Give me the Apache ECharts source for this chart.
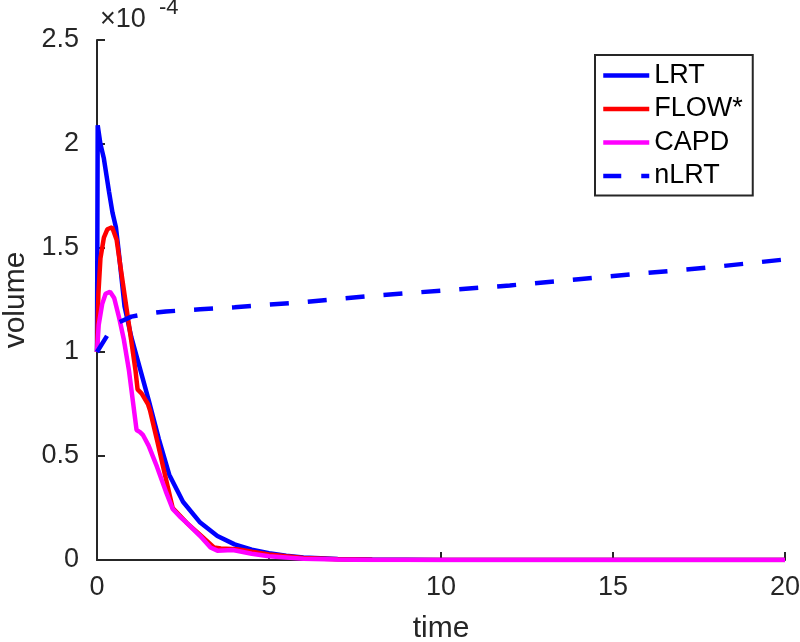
<!DOCTYPE html>
<html>
<head>
<meta charset="utf-8">
<script src="https://cdn.jsdelivr.net/npm/echarts@6/dist/echarts.min.js"></script>
<style>html,body{margin:0;padding:0;background:#fff}#c{width:800px;height:642px}</style>
</head>
<body>
<div id="c"></div>
<script>
// values in units of 1e-4
const seriesNames = ['LRT', 'FLOW*', 'CAPD', 'nLRT'];
const xTicks = [0, 5, 10, 15, 20];
const yTicks = [0, 0.5, 1, 1.5, 2, 2.5];

const tLRT = [0, 0.02, 0.1, 0.2, 0.35, 0.45, 0.55, 0.62, 0.8, 1.0, 1.2, 1.5, 1.8, 2.1, 2.5, 3.0, 3.5, 4.0, 4.5, 5.0, 5.5, 6, 7, 8, 10, 20];
const vLRT = [1.0, 2.09, 2.0, 1.93, 1.77, 1.67, 1.6, 1.5, 1.22, 1.07, 0.95, 0.77, 0.58, 0.41, 0.28, 0.18, 0.115, 0.075, 0.05, 0.033, 0.02, 0.012, 0.005, 0.002, 0.0005, 0];

const tFLOW = [0, 0.04, 0.1, 0.2, 0.3, 0.44, 0.57, 0.7, 0.85, 1.0, 1.12, 1.18, 1.3, 1.48, 1.54, 1.74, 1.92, 2.2, 2.4, 2.6, 3.0, 3.4, 3.6, 4.07, 4.5, 5.0, 5.5, 6, 7, 8, 20];
const vFLOW = [1.0, 1.28, 1.45, 1.55, 1.59, 1.6, 1.54, 1.39, 1.22, 1.05, 0.91, 0.82, 0.8, 0.75, 0.72, 0.58, 0.45, 0.25, 0.215, 0.18, 0.12, 0.06, 0.055, 0.052, 0.04, 0.027, 0.018, 0.01, 0.004, 0.001, 0];

const tCAPD = [0, 0.05, 0.15, 0.25, 0.38, 0.5, 0.65, 0.78, 0.93, 1.15, 1.25, 1.34, 1.5, 1.74, 2.0, 2.2, 2.4, 2.6, 3.0, 3.3, 3.5, 3.95, 4.5, 5.0, 6, 7, 8, 20];
const vCAPD = [1.0, 1.13, 1.23, 1.28, 1.29, 1.26, 1.16, 1.06, 0.91, 0.625, 0.615, 0.6, 0.55, 0.45, 0.33, 0.245, 0.21, 0.18, 0.115, 0.06, 0.045, 0.048, 0.03, 0.018, 0.006, 0.002, 0, 0];

const tNLRT = [0, 0.3, 0.6, 1, 1.5, 2, 3, 4, 6, 8, 10, 12, 14, 16, 18, 20];
const vNLRT = [1.0, 1.08, 1.14, 1.17, 1.185, 1.195, 1.205, 1.215, 1.24, 1.27, 1.295, 1.32, 1.35, 1.38, 1.41, 1.445];

const pairs = (t, v) => t.map((x, i) => [x, v[i]]);
const FONT = '"Liberation Sans", Arial, sans-serif';
const AX = '#262626';

const chart = echarts.init(document.getElementById('c'), null, {renderer: 'canvas'});
chart.setOption({
  animation: false,
  backgroundColor: '#fff',
  grid: {left: 97, right: 15, top: 40, bottom: 82, containLabel: false, outerBoundsMode: 'none'},
  xAxis: {
    type: 'value', min: xTicks[0], max: xTicks[xTicks.length - 1], interval: 5,
    name: 'time', nameLocation: 'middle', nameGap: 54,
    nameTextStyle: {fontFamily: FONT, fontSize: 30, color: AX},
    axisLine: {show: true, lineStyle: {color: AX, width: 2}},
    axisTick: {show: true, inside: true, length: 8, lineStyle: {color: AX, width: 2}},
    axisLabel: {margin: 14, fontFamily: FONT, fontSize: 27, color: AX},
    splitLine: {show: false}
  },
  yAxis: {
    type: 'value', min: yTicks[0], max: yTicks[yTicks.length - 1], interval: 0.5,
    name: 'volume', nameLocation: 'middle', nameGap: 66, nameRotate: 90,
    nameTextStyle: {fontFamily: FONT, fontSize: 30, color: AX},
    axisLine: {show: true, lineStyle: {color: AX, width: 2}},
    axisTick: {show: true, inside: true, length: 8, lineStyle: {color: AX, width: 2}},
    axisLabel: {margin: 18, fontFamily: FONT, fontSize: 27, color: AX},
    splitLine: {show: false}
  },
  legend: {
    orient: 'vertical', left: 595, top: 55,
    data: [
      {name: seriesNames[0]},
      {name: seriesNames[1]},
      {name: seriesNames[2]},
      {name: seriesNames[3], lineStyle: {type: [18, 20], width: 4.5}}
    ],
    itemWidth: 46, itemHeight: 14, itemGap: 6.5,
    padding: [7, 10, 6, 6],
    borderColor: AX, borderWidth: 2, backgroundColor: '#fff',
    itemStyle: {opacity: 0},
    lineStyle: {width: 4.5},
    textStyle: {fontFamily: FONT, fontSize: 27, color: '#000', lineHeight: 27}
  },
  graphic: [
    {type: 'text', left: 100, top: 6, style: {text: '×10', font: '27px ' + FONT, fill: AX}},
    {type: 'text', left: 159, top: -3, style: {text: '-4', font: '22px ' + FONT, fill: AX}}
  ],
  series: [
    {name: 'LRT', type: 'line', data: pairs(tLRT, vLRT), symbol: 'none', lineStyle: {color: '#0000ff', width: 4.5}, itemStyle: {color: '#0000ff'}},
    {name: 'FLOW*', type: 'line', data: pairs(tFLOW, vFLOW), symbol: 'none', lineStyle: {color: '#ff0000', width: 4.5}, itemStyle: {color: '#ff0000'}},
    {name: 'CAPD', type: 'line', data: pairs(tCAPD, vCAPD), symbol: 'none', lineStyle: {color: '#ff00ff', width: 4.5}, itemStyle: {color: '#ff00ff'}},
    {name: 'nLRT', type: 'line', data: pairs(tNLRT, vNLRT), symbol: 'none', lineStyle: {color: '#0000ff', width: 4.5, type: [19, 19]}, itemStyle: {color: '#0000ff'}}
  ]
});
</script>
</body>
</html>
